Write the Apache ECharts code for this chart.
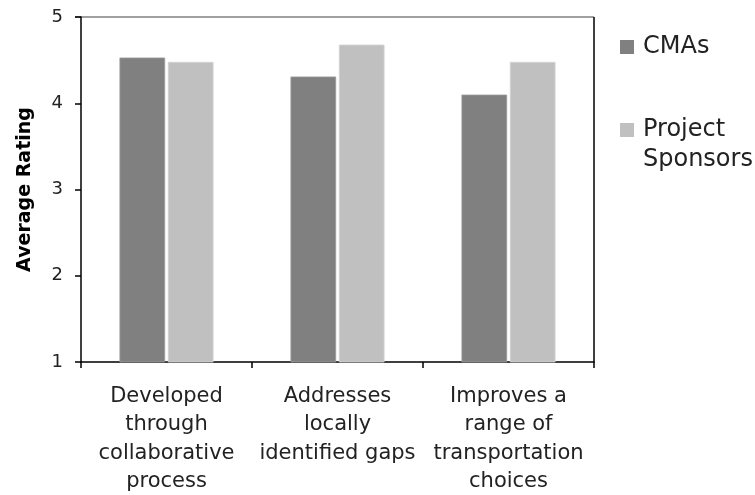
<!DOCTYPE html>
<html>
<head>
<meta charset="utf-8">
<script src="https://cdn.jsdelivr.net/npm/echarts@6/dist/echarts.min.js"></script>
<style>
  html, body { margin: 0; padding: 0; background: #fff; }
  #chart { width: 755px; height: 495px; }
</style>
</head>
<body>
<div id="chart"></div>
<script>
var categories = [
    'Developed\nthrough\ncollaborative\nprocess',
    'Addresses\nlocally\nidentified gaps',
    'Improves a\nrange of\ntransportation\nchoices'
];
var seriesNames = ['CMAs', 'Project\nSponsors'];
var cmaValues = [4.53, 4.31, 4.10];
var sponsorValues = [4.48, 4.68, 4.48];
var yTicks = [1, 2, 3, 4, 5];

var fontName = 'DejaVu Sans';
var chart = echarts.init(document.getElementById('chart'));

var option = {
    animation: false,
    textStyle: { fontFamily: fontName },
    grid: { left: 81, right: 161, top: 17, bottom: 133, outerBoundsMode: 'none', containLabel: false },
    legend: {
        orient: 'vertical',
        left: 620,
        top: 32,
        padding: 0,
        itemWidth: 14,
        itemHeight: 14,
        itemGap: 23,
        icon: 'rect',
        itemStyle: { borderWidth: 0 },
        data: seriesNames,
        // empty first line so the marker sits beside the first text line
        formatter: function (name) {
            return name.indexOf('\n') >= 0 ? '\n' + name : name;
        },
        textStyle: { fontSize: 24, color: '#222', lineHeight: 30, padding: [0, 0, 0, 4], fontFamily: fontName }
    },
    xAxis: {
        type: 'category',
        data: categories,
        axisLine: { lineStyle: { color: '#000', width: 1.5 } },
        axisTick: { show: true, length: 6, lineStyle: { color: '#000', width: 1.5 } },
        axisLabel: { fontSize: 21, color: '#222', lineHeight: 28.5, margin: 20, interval: 0, align: 'center' }
    },
    yAxis: [{
        type: 'value',
        min: yTicks[0],
        max: yTicks[yTicks.length - 1],
        interval: 1,
        name: 'Average Rating',
        nameLocation: 'middle',
        nameGap: 46,
        nameTextStyle: { fontSize: 19, fontWeight: 'bold', color: '#000' },
        axisLine: { show: true, lineStyle: { color: '#000', width: 1.5 } },
        axisTick: { show: true, length: 6, lineStyle: { color: '#000', width: 1.5 } },
        axisLabel: { fontSize: 18, color: '#222', margin: 18 },
        splitLine: { show: false }
    }],
    series: [
        {
            name: seriesNames[0],
            type: 'bar',
            data: cmaValues,
            barCategoryGap: '45%',
            barGap: '6%',
            itemStyle: { color: '#808080', borderColor: '#9a9a9a', borderWidth: 0.8 }
        },
        {
            name: seriesNames[1],
            type: 'bar',
            data: sponsorValues,
            itemStyle: { color: '#c0c0c0', borderColor: '#d4d4d4', borderWidth: 0.8 }
        }
    ],
    graphic: [
        // plot border: grey top edge, black right edge
        { type: 'line', shape: { x1: 75, y1: 17, x2: 594, y2: 17 }, style: { stroke: '#808080', lineWidth: 1.5 } },
        { type: 'line', shape: { x1: 594, y1: 17, x2: 594, y2: 362 }, style: { stroke: '#000', lineWidth: 1.5 } }
    ]
};

chart.setOption(option);
</script>
</body>
</html>
